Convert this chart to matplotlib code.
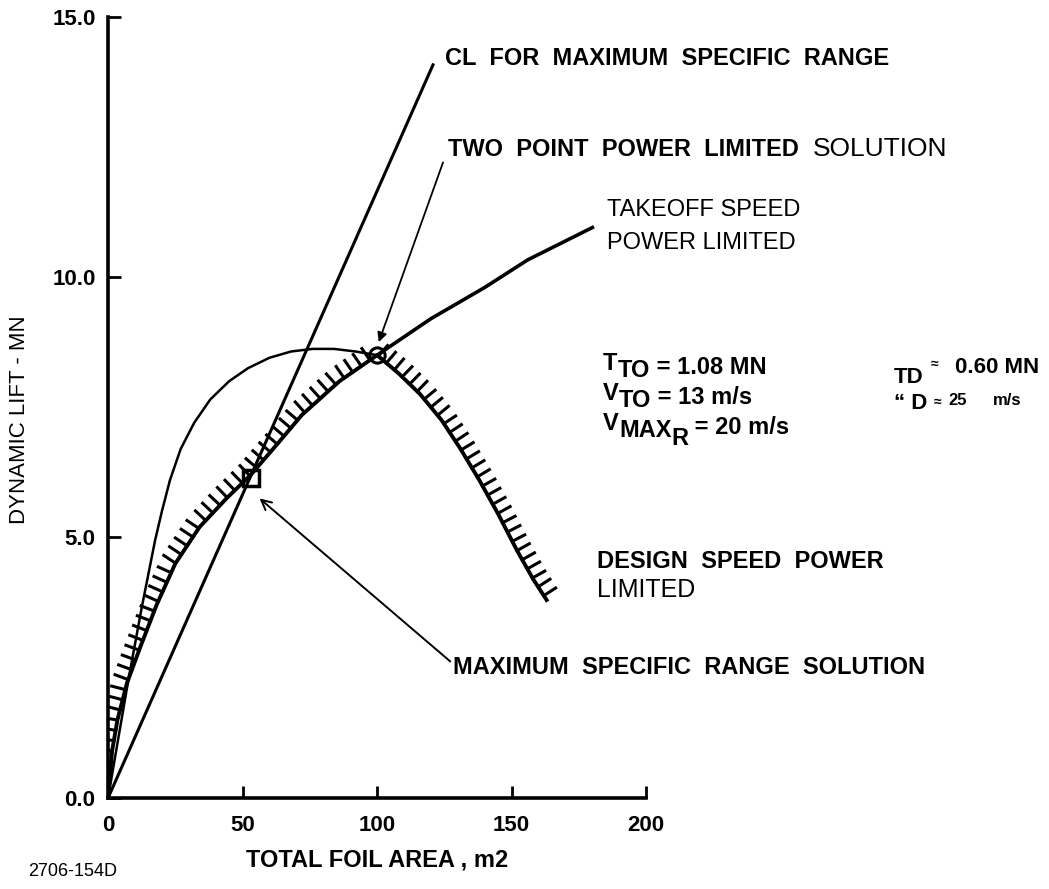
import matplotlib
matplotlib.use("Agg")
import matplotlib.pyplot as plt
import matplotlib.patheffects as pe

plt.rcParams['font.family'] = ['Liberation Sans', 'DejaVu Sans']
plt.rcParams['font.weight'] = 'bold'

# CL for maximum specific range (straight line from origin)
cl_x = [0, 121]
cl_y = [0, 14.1]

# takeoff speed power limited: thin arc up to the two point solution
arc_x = [0, 1.5, 3, 5, 7.5, 10, 12.5, 15, 17.5, 20, 23, 27, 32, 38, 45, 52,
         60, 68, 76, 84, 92, 100]
arc_y = [0, 0.45, 0.9, 1.5, 2.25, 2.95, 3.65, 4.3, 4.95, 5.5, 6.1, 6.7, 7.2, 7.65,
         8.0, 8.25, 8.45, 8.57, 8.62, 8.62, 8.57, 8.5]

# takeoff speed power limited: continuation past the two point solution
takeoff_x = [100, 120, 140, 156, 180]
takeoff_y = [8.5, 9.2, 9.8, 10.33, 10.95]

# design speed power limited (hatched boundary)
design_x = [0, 1.5, 3.5, 7, 12, 18, 25, 34, 44, 53, 63, 72, 86, 100,
            108, 116, 124, 131, 138, 145, 152, 158, 163]
design_y = [0, 0.9, 1.5, 2.2, 2.9, 3.7, 4.5, 5.2, 5.75, 6.2, 6.8, 7.35, 8.0, 8.5,
            8.15, 7.75, 7.25, 6.7, 6.1, 5.45, 4.75, 4.2, 3.8]

two_point = (100, 8.5)
max_range = (53, 6.15)

x_ticks = [0, 50, 100, 150, 200]
y_ticks = [0.0, 5.0, 10.0, 15.0]

PX = 0.72  # points per pixel at 100 dpi


def chain(ax, x, y, pieces):
    # pieces: (text, baseline shift in px, size, weight), drawn one after another
    prev, prev_dy = None, 0
    for s, dy, size, weight in pieces:
        if prev is None:
            t = ax.annotate(s, xy=(x, y), xycoords='data', xytext=(0, dy * PX),
                            textcoords='offset points', va='baseline', ha='left',
                            fontsize=size, fontweight=weight, annotation_clip=False)
        else:
            t = ax.annotate(s, xy=(1, 0), xycoords=prev, xytext=(0, (dy - prev_dy) * PX),
                            textcoords='offset points', va='bottom', ha='left',
                            fontsize=size, fontweight=weight)
        prev, prev_dy = t, dy
    return prev


fig = plt.figure(figsize=(10.49, 8.89), dpi=100)
ax = fig.add_axes([0.103, 0.1024, 0.513, 0.879])

ax.plot(cl_x, cl_y, color='black', lw=2.2, solid_capstyle='butt')
ax.plot(arc_x, arc_y, color='black', lw=1.8)
ax.plot(takeoff_x, takeoff_y, color='black', lw=2.6)
ax.plot(design_x, design_y, color='black', lw=2.8,
        path_effects=[pe.withTickedStroke(spacing=7.5, angle=90, length=1.35, linewidth=2.2)])

ax.plot(*two_point, 'o', mfc='none', mec='black', ms=11, mew=2.2)
ax.plot(*max_range, 's', mfc='none', mec='black', ms=12, mew=2.5)

tfont = dict(fontsize=17, fontweight='bold', va='center', ha='left', clip_on=False)

ax.text(125.3, 14.2, "CL  FOR  MAXIMUM  SPECIFIC  RANGE", **tfont)
chain(ax, 126.5, 12.32, [("TWO  POINT  POWER  LIMITED  ", 0, 17, 'bold'),
                         ("SOLUTION", 0, 19, 'normal')])
ax.annotate('', xy=(100.6, 8.75), xytext=(124.5, 12.2),
            arrowprops=dict(arrowstyle='-|>', lw=1.3, color='black',
                            mutation_scale=14, shrinkA=0, shrinkB=0))
ax.text(185.5, 11.29, "TAKEOFF SPEED", fontsize=17, fontweight='normal',
        va='center', ha='left', clip_on=False)
ax.text(185.5, 10.65, "POWER LIMITED", fontsize=17, fontweight='normal',
        va='center', ha='left', clip_on=False)

chain(ax, 184, 8.14, [("T", 4, 17, 'bold'), ("TO", -3, 17, 'bold'),
                      (" = 1.08 MN", 0, 17, 'bold')])
chain(ax, 184, 7.56, [("V", 4, 17, 'bold'), ("TO", -3, 17, 'bold'),
                      (" = 13 m/s", 0, 17, 'bold')])
chain(ax, 184, 6.99, [("V", 4, 17, 'bold'), ("MAX", -3, 17, 'bold'),
                      ("R", -11, 17, 'bold'), (" = 20 m/s", 0, 17, 'bold')])

ax.text(292, 7.97, "TD", fontsize=16, fontweight='bold', va='baseline', clip_on=False)
ax.text(305.6, 8.33, "≈", fontsize=10, fontweight='bold', va='center', clip_on=False)
ax.text(314.9, 8.16, "0.60 MN", fontsize=16, fontweight='bold', va='baseline', clip_on=False)
ax.text(292, 7.47, "“ D", fontsize=16, fontweight='bold', va='baseline', clip_on=False)
ax.text(306.7, 7.6, "≈", fontsize=10, fontweight='bold', va='center', clip_on=False)
ax.text(312.3, 7.55, "25", fontsize=12, fontweight='bold', va='baseline', clip_on=False)
ax.text(329, 7.55, "m/s", fontsize=12, fontweight='bold', va='baseline', clip_on=False)

ax.text(181.8, 4.53, "DESIGN  SPEED  POWER", **tfont)
ax.text(181.8, 3.99, "LIMITED", fontsize=18, fontweight='normal',
        va='center', ha='left', clip_on=False)

ax.text(128.3, 2.5, "MAXIMUM  SPECIFIC  RANGE  SOLUTION", **tfont)
ax.annotate('', xy=(56.3, 5.75), xytext=(127.2, 2.62),
            arrowprops=dict(arrowstyle='->', lw=1.4, color='black',
                            mutation_scale=18, shrinkA=0, shrinkB=0))

ax.set_xlim(0, 200)
ax.set_ylim(0, 15)
ax.set_xticks(x_ticks)
ax.set_yticks(y_ticks)
ax.set_xticklabels([str(v) for v in x_ticks])
ax.set_yticklabels([f"{v:.1f}" for v in y_ticks])
ax.tick_params(direction='in', length=9, width=2, labelsize=16, color='black')
ax.tick_params(axis='x', pad=12)
ax.tick_params(axis='y', pad=9)
for lab in ax.get_xticklabels() + ax.get_yticklabels():
    lab.set_fontweight('bold')

for side in ['top', 'right']:
    ax.spines[side].set_visible(False)
for side in ['left', 'bottom']:
    ax.spines[side].set_linewidth(2.6)

fig.text(20 / 1049, 1 - 420 / 889, "DYNAMIC LIFT - MN", rotation=90,
         fontsize=16, fontweight='normal', ha='center', va='center')
fig.text(377 / 1049, 1 - 860 / 889, "TOTAL FOIL AREA , m2",
         fontsize=17, fontweight='bold', ha='center', va='center')
fig.text(28 / 1049, 1 - 872 / 889, "2706-154D",
         fontsize=13, fontweight='normal', ha='left', va='center')

fig.savefig("out.png", dpi=100)
